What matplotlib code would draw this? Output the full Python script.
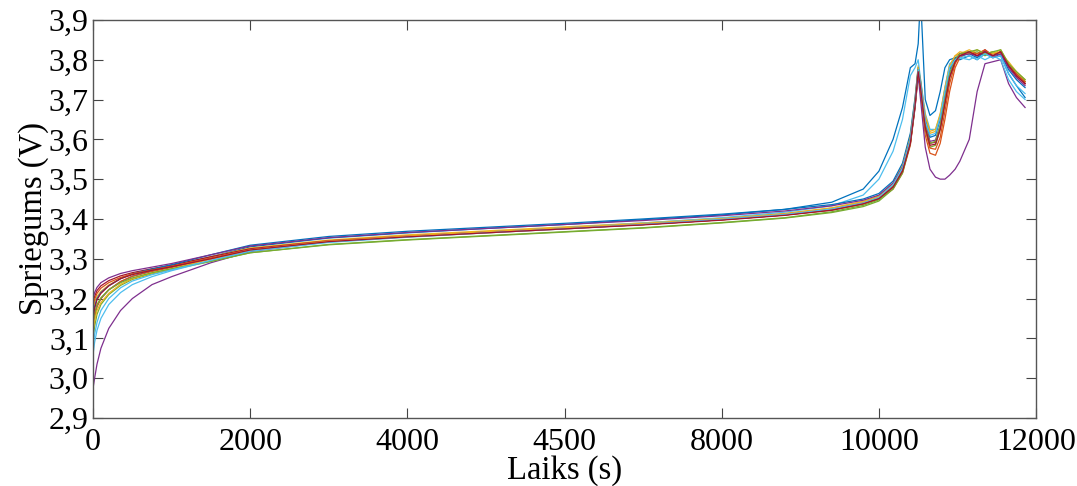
import matplotlib
matplotlib.use("Agg")
import matplotlib.pyplot as plt

plt.rcParams['font.family'] = ['Liberation Serif', 'DejaVu Serif']

# time points (s), shared by all cells
t_s = [0, 20, 50, 100, 200, 350, 500, 750, 1000, 1500,
       2000, 3000, 4000, 5000, 6000, 7000, 8000, 8800, 9400, 9800,
       10000, 10180, 10300, 10400, 10460, 10500, 10530, 10590, 10650, 10720,
       10780, 10840, 10900, 10970, 11030, 11150, 11250, 11350, 11450, 11550,
       11650, 11750, 11860]

# voltages (V)
c01 = [3.12, 3.15, 3.18, 3.20, 3.222, 3.242, 3.256, 3.27, 3.28, 3.305, 3.33, 3.352, 3.365, 3.376, 3.386, 3.398, 3.41, 3.424, 3.442, 3.475, 3.52, 3.60, 3.68, 3.78, 3.79, 3.84, 3.96, 3.70, 3.66, 3.672, 3.72, 3.78, 3.80, 3.805, 3.80, 3.81, 3.80, 3.815, 3.805, 3.81, 3.765, 3.735, 3.705]
c02 = [3.13, 3.155, 3.18, 3.20, 3.222, 3.243, 3.256, 3.268, 3.278, 3.30, 3.323, 3.343, 3.355, 3.365, 3.375, 3.386, 3.398, 3.41, 3.422, 3.437, 3.45, 3.475, 3.515, 3.585, 3.68, 3.765, 3.72, 3.61, 3.565, 3.56, 3.59, 3.65, 3.72, 3.78, 3.805, 3.82, 3.81, 3.82, 3.815, 3.82, 3.785, 3.76, 3.74]
c03 = [3.17, 3.19, 3.205, 3.218, 3.234, 3.25, 3.262, 3.273, 3.283, 3.305, 3.327, 3.347, 3.36, 3.37, 3.38, 3.39, 3.402, 3.414, 3.428, 3.444, 3.458, 3.49, 3.535, 3.61, 3.70, 3.785, 3.75, 3.655, 3.615, 3.62, 3.66, 3.725, 3.785, 3.81, 3.815, 3.825, 3.815, 3.82, 3.815, 3.825, 3.79, 3.765, 3.745]
c04 = [2.975, 3.00, 3.035, 3.075, 3.125, 3.17, 3.20, 3.235, 3.255, 3.29, 3.318, 3.343, 3.356, 3.367, 3.377, 3.388, 3.40, 3.412, 3.425, 3.44, 3.452, 3.48, 3.52, 3.59, 3.68, 3.76, 3.70, 3.58, 3.525, 3.505, 3.50, 3.50, 3.51, 3.525, 3.545, 3.60, 3.72, 3.79, 3.795, 3.80, 3.74, 3.705, 3.68]
c05 = [3.10, 3.13, 3.16, 3.185, 3.21, 3.233, 3.248, 3.262, 3.273, 3.293, 3.315, 3.335, 3.347, 3.357, 3.367, 3.377, 3.39, 3.402, 3.416, 3.431, 3.445, 3.475, 3.515, 3.59, 3.685, 3.77, 3.73, 3.625, 3.58, 3.585, 3.625, 3.69, 3.755, 3.795, 3.81, 3.815, 3.82, 3.81, 3.82, 3.815, 3.785, 3.765, 3.745]
c06 = [3.06, 3.09, 3.12, 3.15, 3.185, 3.215, 3.235, 3.255, 3.27, 3.295, 3.32, 3.342, 3.356, 3.367, 3.378, 3.39, 3.403, 3.417, 3.433, 3.46, 3.50, 3.57, 3.65, 3.76, 3.78, 3.80, 3.75, 3.665, 3.625, 3.625, 3.66, 3.73, 3.79, 3.80, 3.805, 3.80, 3.81, 3.80, 3.81, 3.80, 3.75, 3.72, 3.70]
c07 = [3.19, 3.205, 3.22, 3.232, 3.245, 3.257, 3.265, 3.275, 3.284, 3.305, 3.325, 3.345, 3.357, 3.367, 3.376, 3.386, 3.398, 3.41, 3.423, 3.44, 3.453, 3.483, 3.523, 3.595, 3.69, 3.775, 3.735, 3.635, 3.59, 3.593, 3.63, 3.695, 3.76, 3.80, 3.815, 3.82, 3.81, 3.825, 3.81, 3.82, 3.785, 3.76, 3.74]
c08 = [3.16, 3.18, 3.20, 3.215, 3.232, 3.25, 3.262, 3.274, 3.285, 3.31, 3.334, 3.356, 3.369, 3.379, 3.389, 3.40, 3.412, 3.424, 3.436, 3.45, 3.464, 3.495, 3.54, 3.615, 3.705, 3.78, 3.745, 3.65, 3.605, 3.61, 3.65, 3.715, 3.775, 3.805, 3.81, 3.815, 3.805, 3.82, 3.81, 3.815, 3.775, 3.75, 3.73]
c09 = [3.18, 3.198, 3.213, 3.226, 3.24, 3.253, 3.262, 3.272, 3.281, 3.302, 3.323, 3.344, 3.356, 3.366, 3.376, 3.386, 3.398, 3.41, 3.424, 3.44, 3.453, 3.482, 3.52, 3.59, 3.685, 3.77, 3.73, 3.625, 3.578, 3.575, 3.605, 3.67, 3.74, 3.79, 3.81, 3.82, 3.815, 3.825, 3.81, 3.82, 3.79, 3.765, 3.745]
c10 = [3.12, 3.145, 3.17, 3.19, 3.213, 3.236, 3.25, 3.264, 3.275, 3.299, 3.322, 3.344, 3.357, 3.368, 3.378, 3.389, 3.401, 3.413, 3.427, 3.443, 3.456, 3.488, 3.532, 3.605, 3.695, 3.78, 3.745, 3.66, 3.62, 3.625, 3.665, 3.73, 3.785, 3.81, 3.82, 3.815, 3.825, 3.815, 3.82, 3.815, 3.795, 3.77, 3.75]
c11 = [3.20, 3.215, 3.228, 3.24, 3.252, 3.263, 3.27, 3.279, 3.288, 3.31, 3.332, 3.353, 3.366, 3.376, 3.386, 3.396, 3.408, 3.42, 3.433, 3.447, 3.46, 3.49, 3.53, 3.60, 3.69, 3.775, 3.74, 3.64, 3.595, 3.598, 3.635, 3.70, 3.765, 3.80, 3.81, 3.815, 3.81, 3.82, 3.805, 3.815, 3.78, 3.755, 3.735]
c12 = [3.14, 3.163, 3.185, 3.202, 3.222, 3.24, 3.252, 3.265, 3.275, 3.294, 3.315, 3.336, 3.348, 3.358, 3.368, 3.378, 3.391, 3.403, 3.418, 3.434, 3.448, 3.48, 3.52, 3.595, 3.69, 3.775, 3.735, 3.635, 3.59, 3.595, 3.635, 3.70, 3.765, 3.80, 3.815, 3.82, 3.825, 3.815, 3.82, 3.825, 3.79, 3.77, 3.75]
c13 = [3.08, 3.11, 3.14, 3.17, 3.20, 3.227, 3.244, 3.26, 3.272, 3.296, 3.319, 3.341, 3.354, 3.365, 3.375, 3.386, 3.399, 3.411, 3.425, 3.44, 3.454, 3.486, 3.528, 3.60, 3.69, 3.775, 3.74, 3.645, 3.61, 3.615, 3.655, 3.72, 3.78, 3.80, 3.805, 3.81, 3.80, 3.815, 3.805, 3.81, 3.765, 3.735, 3.715]
c14 = [3.15, 3.175, 3.197, 3.213, 3.232, 3.25, 3.26, 3.271, 3.28, 3.30, 3.322, 3.343, 3.355, 3.365, 3.375, 3.385, 3.397, 3.409, 3.422, 3.438, 3.451, 3.48, 3.52, 3.59, 3.685, 3.77, 3.73, 3.63, 3.585, 3.588, 3.625, 3.69, 3.755, 3.795, 3.81, 3.82, 3.81, 3.82, 3.81, 3.82, 3.785, 3.76, 3.74]

cells = [c01, c02, c03, c04, c05, c06, c07, c08, c09, c10, c11, c12, c13, c14]
colors = ['#0072BD', '#D95319', '#EDB120', '#7E2F8E', '#77AC30', '#4DBEEE', '#A2142F']

xticks = [0, 2000, 4000, 6000, 8000, 10000, 12000]
xtick_labels = ['0', '2000', '4000', '4500', '8000', '10000', '12000']
yticks = [2.9, 3.0, 3.1, 3.2, 3.3, 3.4, 3.5, 3.6, 3.7, 3.8, 3.9]
ytick_labels = ['2,9', '3,0', '3,1', '3,2', '3,3', '3,4', '3,5', '3,6', '3,7', '3,8', '3,9']

fig = plt.figure(figsize=(10.77, 4.86), dpi=100)
ax = fig.add_axes([0.0864, 0.140, 0.8756, 0.819])

for i, v in enumerate(cells):
    ax.plot(t_s, v, color=colors[i % len(colors)], lw=0.9)

ax.set_xlim(0, 12000)
ax.set_ylim(2.9, 3.9)
ax.set_xticks(xticks)
ax.set_xticklabels(xtick_labels)
ax.set_yticks(yticks)
ax.set_yticklabels(ytick_labels)
ax.tick_params(direction='in', length=7, width=0.8, labelsize=23,
               top=True, right=True, color='#444444')
ax.tick_params(axis='x', pad=7)
ax.tick_params(axis='y', pad=3)
for s in ax.spines.values():
    s.set_color('#555555')
    s.set_linewidth(1.0)

ax.set_xlabel('Laiks (s)', fontsize=23.5, labelpad=-1)
ax.set_ylabel('Spriegums (V)', fontsize=23.5, labelpad=0)

fig.savefig('out.png', dpi=100)
